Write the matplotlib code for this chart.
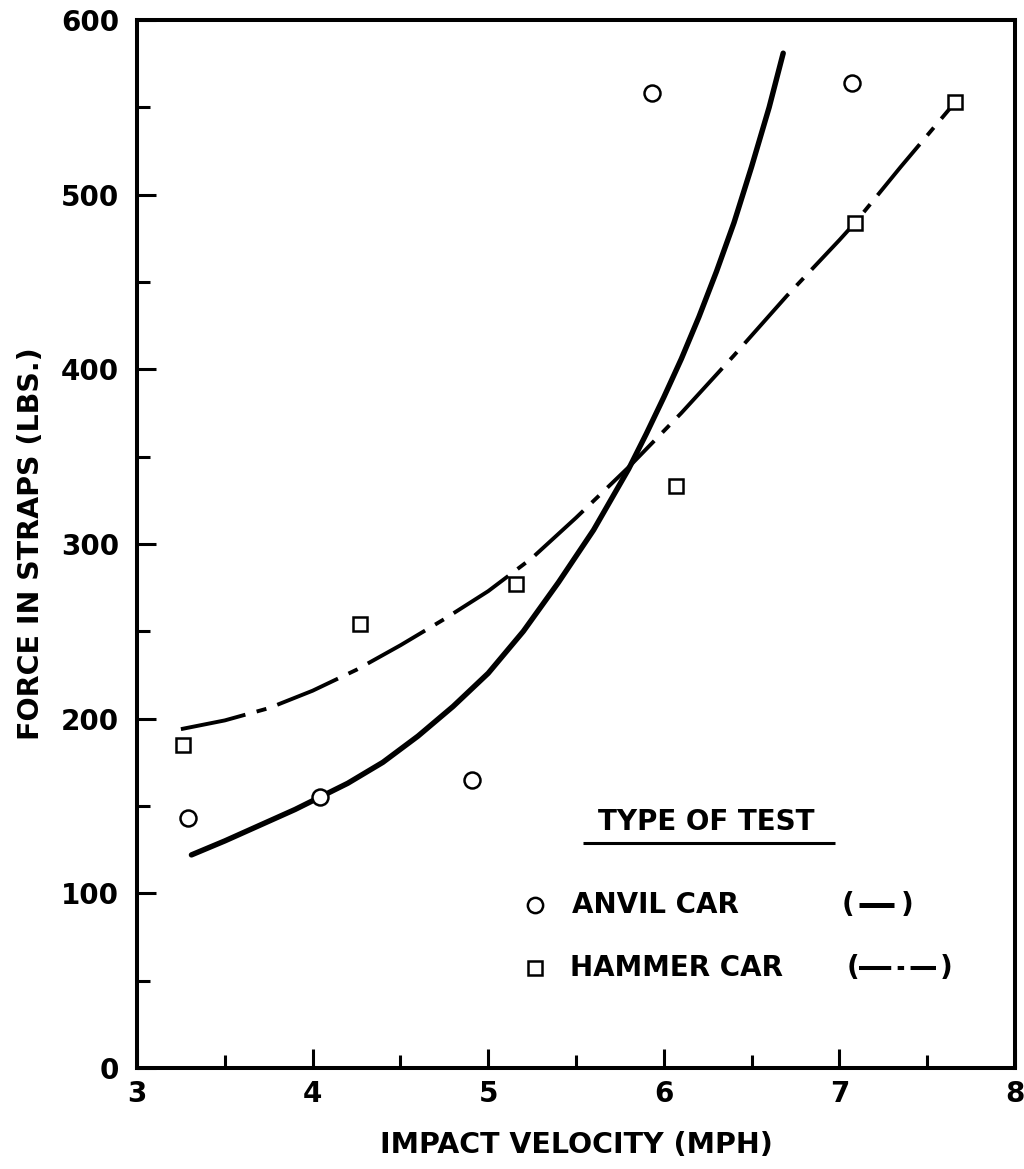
import matplotlib
matplotlib.use("Agg")
import matplotlib.pyplot as plt
from matplotlib.ticker import MultipleLocator

# measured points, anvil car tests
anvil_vel = [3.29, 4.04, 4.91, 5.93, 7.07]
anvil_force = [143, 155, 165, 558, 564]

# measured points, hammer car tests
hammer_vel = [3.26, 4.27, 5.16, 6.07, 7.09, 7.66]
hammer_force = [185, 254, 277, 333, 484, 553]

# faired curve through the anvil car results
anvil_curve_vel = [3.31, 3.5, 3.7, 3.9, 4.04, 4.2, 4.4, 4.6, 4.8, 5.0, 5.2, 5.4,
                   5.6, 5.8, 5.9, 6.0, 6.1, 6.2, 6.3, 6.4, 6.5, 6.6, 6.68]
anvil_curve_force = [122, 130, 139, 148, 155, 163, 175, 190, 207, 226, 250, 278,
                     308, 343, 363, 384, 406, 430, 456, 484, 516, 550, 581]

# faired curve through the hammer car results
hammer_curve_vel = [3.25, 3.5, 3.75, 4.0, 4.25, 4.5, 4.75, 5.0, 5.25, 5.5, 5.8, 6.1,
                    6.4, 6.7, 7.0, 7.09, 7.35, 7.66]
hammer_curve_force = [194, 199, 206, 216, 228, 242, 257, 273, 292, 315, 344, 375,
                      408, 442, 474, 484, 516, 553]

x_ticks = [3, 4, 5, 6, 7, 8]
y_ticks = [0, 100, 200, 300, 400, 500, 600]

FONT = {"family": "DejaVu Sans", "weight": "bold"}
DASH_DOT = (17, 3, 2.6, 3)
LEG_SIZE = 20


def draw_legend(ax):
    # legend block built by hand: heading, marker, name and a line sample in brackets
    ax.text(0.648, 0.2347, "TYPE OF TEST", transform=ax.transAxes, fontsize=LEG_SIZE,
            ha="center", va="center", **FONT)
    ax.plot([0.508, 0.795], [0.2147, 0.2147], transform=ax.transAxes, color="black",
            lw=2.2, solid_capstyle="butt")

    # anvil car row
    y = 0.1555
    ax.plot([0.453], [y], transform=ax.transAxes, marker="o", ms=11,
            mfc="white", mec="black", mew=1.8, ls="none")
    ax.text(0.4954, y, "ANVIL CAR", transform=ax.transAxes, fontsize=LEG_SIZE,
            ha="left", va="center", **FONT)
    ax.text(0.81, y, "(", transform=ax.transAxes, fontsize=LEG_SIZE,
            ha="center", va="center", **FONT)
    ax.plot([0.822, 0.862], [y, y], transform=ax.transAxes, color="black",
            lw=3.6, solid_capstyle="butt")
    ax.text(0.877, y, ")", transform=ax.transAxes, fontsize=LEG_SIZE,
            ha="center", va="center", **FONT)

    # hammer car row
    y = 0.0954
    ax.plot([0.453], [y], transform=ax.transAxes, marker="s", ms=10,
            mfc="white", mec="black", mew=1.8, ls="none")
    ax.text(0.493, y, "HAMMER CAR", transform=ax.transAxes, fontsize=LEG_SIZE,
            ha="left", va="center", **FONT)
    ax.text(0.815, y, "(", transform=ax.transAxes, fontsize=LEG_SIZE,
            ha="center", va="center", **FONT)
    ax.plot([0.822, 0.910], [y, y], transform=ax.transAxes, color="black",
            lw=2.9, dashes=(8, 1.6, 1.6, 1.6), dash_capstyle="butt")
    ax.text(0.922, y, ")", transform=ax.transAxes, fontsize=LEG_SIZE,
            ha="center", va="center", **FONT)


fig = plt.figure(figsize=(10.24, 11.69), dpi=100)
ax = fig.add_axes([0.1338, 0.0864, 0.8574, 0.8965])

# curves first, so the open markers sit on top of them
ax.plot(anvil_curve_vel, anvil_curve_force, color="black", lw=3.9,
        solid_capstyle="round", solid_joinstyle="round", zorder=2)
ax.plot(hammer_curve_vel, hammer_curve_force, color="black", lw=2.8,
        dashes=DASH_DOT, dash_capstyle="butt", dash_joinstyle="round", zorder=2)

ax.plot(anvil_vel, anvil_force, ls="none", marker="o", ms=11.5,
        mfc="white", mec="black", mew=1.8, zorder=3)
ax.plot(hammer_vel, hammer_force, ls="none", marker="s", ms=10.5,
        mfc="white", mec="black", mew=1.8, zorder=3)

ax.set_xlim(3, 8)
ax.set_ylim(0, 600)
ax.set_xticks(x_ticks)
ax.set_yticks(y_ticks)
ax.xaxis.set_minor_locator(MultipleLocator(0.5))
ax.yaxis.set_minor_locator(MultipleLocator(50))

ax.tick_params(which="both", direction="in", top=False, right=False, width=2.2)
ax.tick_params(which="major", length=14, labelsize=20, pad=9)
ax.tick_params(axis="y", which="major", pad=13)
ax.tick_params(which="minor", length=9.5)
for lab in ax.get_xticklabels() + ax.get_yticklabels():
    lab.set_fontweight("bold")
    lab.set_family("DejaVu Sans")

for side in ["left", "right", "top", "bottom"]:
    ax.spines[side].set_linewidth(2.9)

ax.set_xlabel("IMPACT VELOCITY (MPH)", fontsize=20.5, labelpad=16, **FONT)
ax.set_ylabel("FORCE IN STRAPS (LBS.)", fontsize=20.5, labelpad=11, **FONT)

draw_legend(ax)

fig.savefig("out.png", dpi=100)
